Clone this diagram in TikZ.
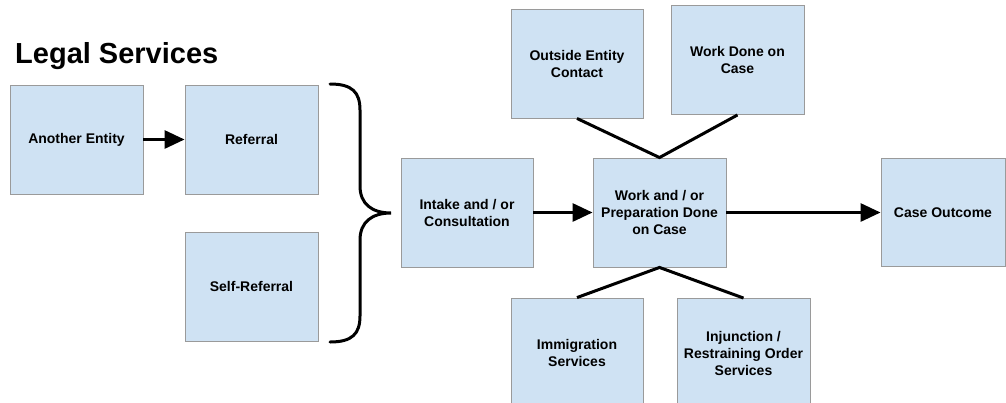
\documentclass[tikz,border=0pt]{standalone}
\usepackage{fontspec}
\setmainfont{Liberation Sans}
\usetikzlibrary{arrows.meta}
\definecolor{boxfill}{HTML}{CFE2F3}
\definecolor{boxline}{HTML}{9A9A9A}
\tikzset{
  stagebox/.style={draw=boxline, line width=0.9pt, fill=boxfill, inner sep=0pt,
    minimum width=133pt, minimum height=109pt, align=center,
    font=\fontsize{14pt}{17pt}\selectfont\bfseries},
  flowarrow/.style={line width=3pt, -{Triangle[length=20pt,width=18pt]}},
  joinline/.style={line width=3pt},
  bracepath/.style={line width=3pt, line cap=round}
}
\begin{document}
\begin{tikzpicture}[x=1pt, y=-1pt]
\useasboundingbox (0,0) rectangle (1006,402);
\begin{scope}
\clip (0,0) rectangle (1006,402);

% heading
\node[anchor=base west, inner sep=0pt, font=\fontsize{29pt}{32pt}\selectfont\bfseries]
  (title) at (15,63) {Legal Services};

% entry points
\node[stagebox] (ae)  at (76.5,139.5)  {Another Entity};
\node[stagebox] (ref) at (251.5,139.5) {Referral};
\node[stagebox] (self) at (251.5,286.5) {Self-Referral};

% main flow
\node[stagebox, minimum width=132pt] (intake) at (467,212.5) {Intake and / or\\Consultation};
\node[stagebox] (work) at (659.5,212.5) {Work and / or\\Preparation Done\\on Case};
\node[stagebox, minimum width=124pt, minimum height=108pt] (out) at (943,212.5) {Case Outcome};

% activities above
\node[stagebox, minimum width=132pt] (oec) at (577,63.5) {Outside Entity\\Contact};
\node[stagebox] (wdc) at (737.5,60) {Work Done on\\Case};

% services below
\node[stagebox, minimum width=132pt, minimum height=110pt] (imm) at (577,353) {Immigration\\Services};
\node[stagebox] (inj) at (743.5,353) {Injunction /\\Restraining Order\\Services};

% connectors
\draw[flowarrow] (ae) -- (ref);
\draw[flowarrow] (intake) -- (work);
\draw[flowarrow] (work) -- (out);
\draw[joinline] (oec.south) -- (work.north) -- (wdc.south);
\draw[joinline] (imm.north) -- (work.south) -- (inj.north);

% curly brace gathering the entry points
\coordinate (tip) at (391,213);
\draw[bracepath] (330,84) .. controls (352,84) and (360,92) .. (360,110)
  -- (360,186) .. controls (360,204) and (372,213) .. (tip)
  .. controls (372,213) and (360,222) .. (360,240)
  -- (360,316) .. controls (360,334) and (352,342) .. (330,342);
\end{scope}
\end{tikzpicture}
\end{document}
